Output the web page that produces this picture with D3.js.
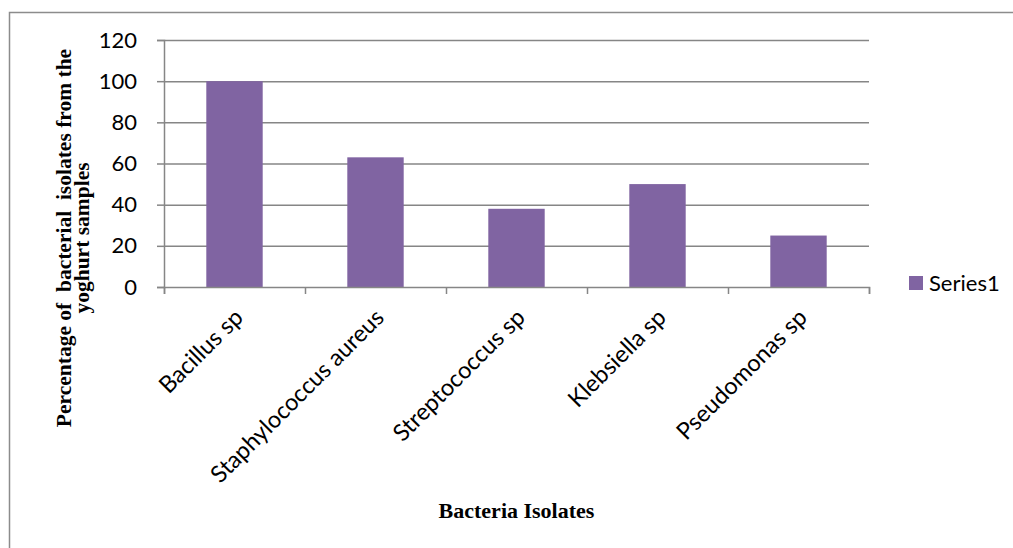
<!DOCTYPE html>
<html>
<head>
<meta charset="utf-8">
<script src="https://cdn.jsdelivr.net/npm/d3@7"></script>
<style>
  body { margin: 0; background: #fff; }
  svg { display: block; }
  .tick text { font-family: Lato, "Noto Sans", sans-serif; fill: #000; }
</style>
</head>
<body>
<div id="chart"></div>
<script>
// data
var categories = ["Bacillus sp", "Staphylococcus aureus", "Streptococcus sp", "Klebsiella sp", "Pseudomonas sp"];
var values = [100, 63, 38, 50, 25];
var yTicks = [0, 20, 40, 60, 80, 100, 120];
var seriesName = "Series1";

var width = 1013;
var height = 548;
var margin = { top: 40, right: 144, bottom: 261, left: 164 };
var plotW = width - margin.left - margin.right;
var plotH = height - margin.top - margin.bottom;

var barColor = "#8064a2";
var lineColor = "#868686";

var svg = d3.select("#chart").append("svg")
    .attr("width", width)
    .attr("height", height);

// outer chart border (runs off the right and bottom)
svg.append("rect")
    .attr("x", 9.5)
    .attr("y", 12.5)
    .attr("width", width + 20)
    .attr("height", height + 20)
    .attr("fill", "none")
    .attr("stroke", "#8c8c8c")
    .attr("stroke-width", 1.5);

var g = svg.append("g")
    .attr("transform", "translate(" + margin.left + "," + margin.top + ")");

var xScale = d3.scaleBand()
    .domain(categories)
    .range([0, plotW])
    .paddingInner(0.6)
    .paddingOuter(0.3);

var yScale = d3.scaleLinear()
    .domain([0, 120])
    .range([plotH, 0]);

// gridlines
g.append("g")
    .selectAll("line")
    .data(yTicks.filter(function (d) { return d > 0; }))
    .enter().append("line")
    .attr("x1", 0)
    .attr("x2", plotW)
    .attr("y1", function (d) { return yScale(d) + 0.5; })
    .attr("y2", function (d) { return yScale(d) + 0.5; })
    .attr("stroke", lineColor)
    .attr("stroke-width", 1.5);

// bars
g.selectAll(".bar")
    .data(values)
    .enter().append("rect")
    .attr("class", "bar")
    .attr("x", function (d, i) { return xScale(categories[i]); })
    .attr("y", function (d) { return yScale(d); })
    .attr("width", xScale.bandwidth())
    .attr("height", function (d) { return plotH - yScale(d); })
    .attr("fill", barColor);

// y axis
var yAxis = g.append("g")
    .call(d3.axisLeft(yScale).tickValues(yTicks).tickSize(7).tickPadding(20));
yAxis.selectAll("text").attr("font-size", 22);
yAxis.selectAll("line, path").attr("stroke", lineColor).attr("stroke-width", 1.5);

// x axis: ticks at band edges like Excel
var xEdge = d3.scaleLinear().domain([0, categories.length]).range([0, plotW]);
var xAxis = g.append("g")
    .attr("transform", "translate(0," + plotH + ")")
    .call(d3.axisBottom(xEdge).tickValues(d3.range(categories.length + 1)).tickSize(7).tickFormat(""));
xAxis.selectAll("line, path").attr("stroke", lineColor).attr("stroke-width", 1.5);

// category labels, rotated
g.append("g")
    .selectAll("text")
    .data(categories)
    .enter().append("text")
    .attr("transform", function (d) {
        return "translate(" + (xScale(d) + xScale.bandwidth() / 2 + 10) + "," + (plotH + 32) + ") rotate(-45)";
    })
    .attr("text-anchor", "end")
    .attr("font-family", "Lato, 'Noto Sans', sans-serif")
    .attr("font-size", 23.5)
    .text(function (d) { return d; });

// axis titles
svg.append("text")
    .attr("x", margin.left + plotW / 2)
    .attr("y", 518)
    .attr("text-anchor", "middle")
    .attr("font-family", "'Liberation Serif', 'Times New Roman', serif")
    .attr("font-weight", "bold")
    .attr("font-size", 22)
    .text("Bacteria Isolates");

var yTitle = svg.append("g")
    .attr("font-family", "'Liberation Serif', 'Times New Roman', serif")
    .attr("font-weight", "bold")
    .attr("font-size", 21.5)
    .attr("text-anchor", "middle");
yTitle.append("text")
    .attr("transform", "translate(71,238) rotate(-90)")
    .style("white-space", "pre")
    .text("Percentage of  bacterial  isolates from the");
yTitle.append("text")
    .attr("transform", "translate(89,238) rotate(-90)")
    .text("yoghurt samples");

// legend
var legend = svg.append("g")
    .attr("transform", "translate(909,276)");
legend.append("rect")
    .attr("width", 14)
    .attr("height", 14)
    .attr("fill", barColor);
legend.append("text")
    .attr("x", 20)
    .attr("y", 15)
    .attr("font-family", "Lato, 'Noto Sans', sans-serif")
    .attr("font-size", 22)
    .text(seriesName);
</script>
</body>
</html>
